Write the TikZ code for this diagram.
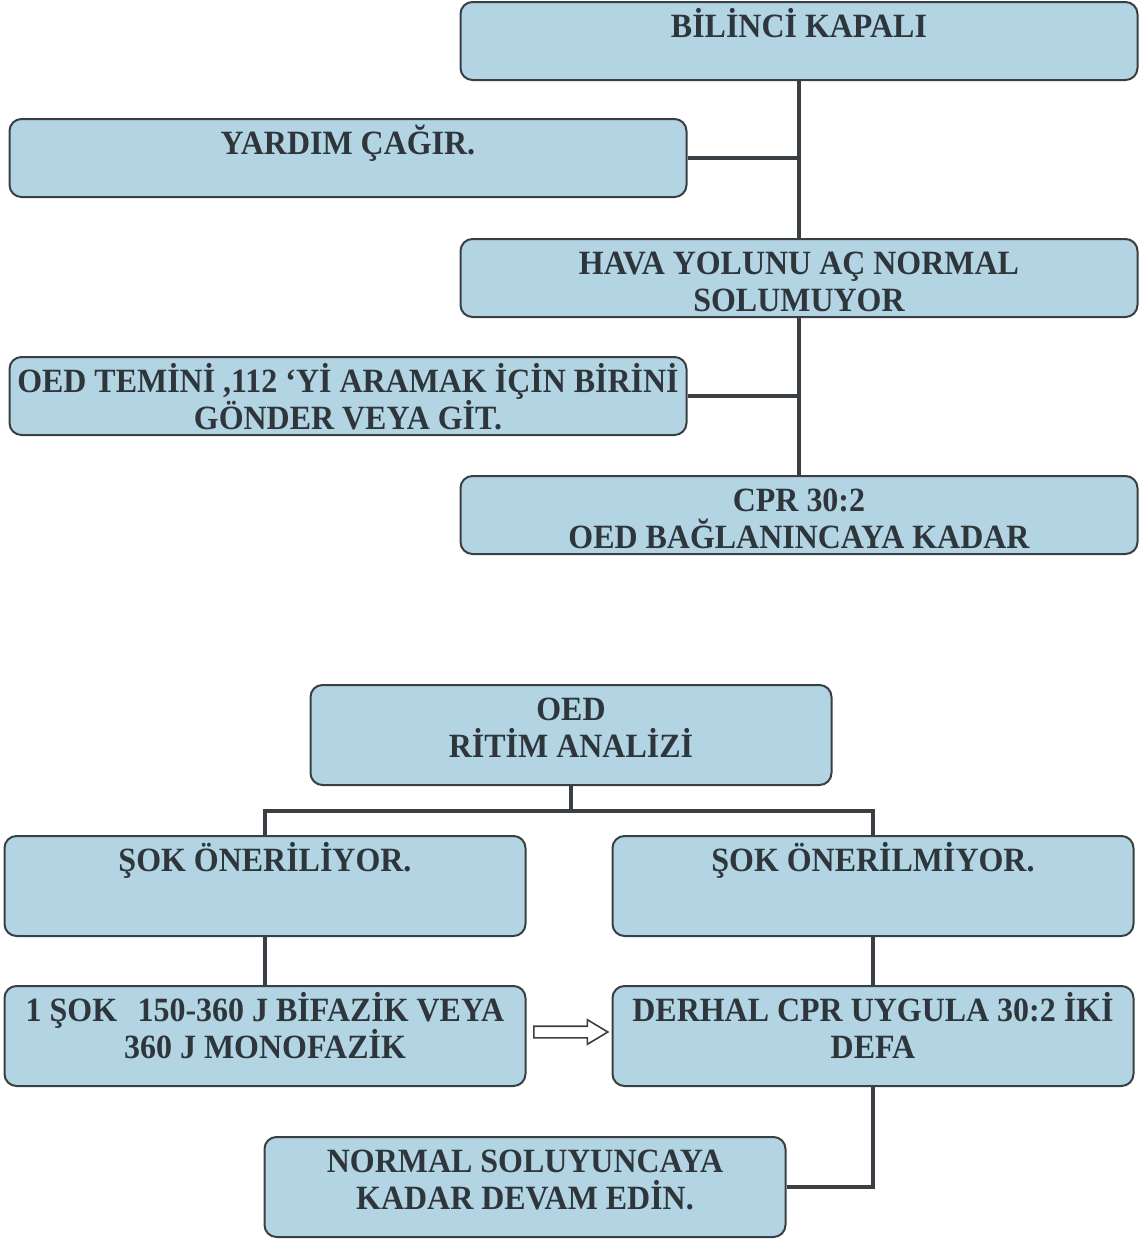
\documentclass[tikz,border=0pt]{standalone}
\usepackage{fontspec}
\setmainfont{Liberation Serif}[FakeStretch=0.94]
\usepackage{xcolor}
\usetikzlibrary{shapes.arrows}
\definecolor{boxblue}{RGB}{178,212,227}
\definecolor{boxline}{RGB}{58,63,68}
\definecolor{ink}{RGB}{46,53,59}
\begin{document}
\begin{tikzpicture}
[x=0.5pt,y=-0.5pt,
box/.style={draw=boxline,fill=boxblue,line width=1pt,rounded corners=6pt,inner sep=0pt},
wide/.style={box,minimum width=338.5pt,minimum height=39pt},
half/.style={box,minimum width=260.5pt,minimum height=50pt},
txt/.style={anchor=north,align=flush center,text width=350pt,inner sep=0pt,text=ink,font=\bfseries\fontsize{17}{18.5}\selectfont,execute at begin node={\rule{0pt}{15.5pt}}},
link/.style={draw=boxline,line width=2pt},
hollow/.style={single arrow,draw=boxline,fill=white,line width=0.8pt,minimum height=37pt,inner xsep=0pt,inner ysep=2.5pt,single arrow head extend=3.25pt,single arrow tip angle=62}]
\useasboundingbox (0,0) rectangle (1147,1242);
\node[wide] (b1) at (799,41) {};
\node[wide] (b2) at (348,158) {};
\node[wide] (b3) at (799,278) {};
\node[wide] (b4) at (348,396) {};
\node[wide] (b5) at (799,515) {};
\draw[link] (b1.south) -- (b3.north) (b3.south) -- (b5.north)
(b2.east) -- (b2.east -| b1.south) (b4.east) -- (b4.east -| b3.south);
\node[txt] (t1) at ([yshift=-2.5pt]b1.north) {BİLİNCİ KAPALI};
\node[txt] (t2) at ([yshift=-2.5pt]b2.north) {YARDIM ÇAĞIR.};
\node[txt] (t3) at ([yshift=-2.5pt]b3.north) {HAVA YOLUNU AÇ NORMAL\\SOLUMUYOR};
\node[txt] (t4) at ([yshift=-2.5pt]b4.north) {OED TEMİNİ ,112 ‘Yİ ARAMAK İÇİN BİRİNİ\\GÖNDER VEYA GİT.};
\node[txt] (t5) at ([yshift=-2.5pt]b5.north) {CPR 30:2\\OED BAĞLANINCAYA KADAR};

\node[half] (b6) at (571,735) {};
\node[half] (b7) at (265,886) {};
\node[half] (b8) at (873,886) {};
\node[half] (b9) at (265,1036) {};
\node[half] (b10) at (873,1036) {};
\node[half] (b11) at (525,1187) {};
\draw[link] (b6.south) -- ++(0,25) coordinate (j) -| (b7.north) (j) -| (b8.north)
(b7.south) -- (b9.north) (b8.south) -- (b10.north) (b10.south) |- (b11.east);
\node[hollow] (arr) at (566,1032) {};
\node[txt] (t6) at ([yshift=-2.5pt]b6.north) {OED\\RİTİM ANALİZİ};
\node[txt] (t7) at ([yshift=-2.5pt]b7.north) {ŞOK ÖNERİLİYOR.};
\node[txt] (t8) at ([yshift=-2.5pt]b8.north) {ŞOK ÖNERİLMİYOR.};
\node[txt] (t9) at ([yshift=-2.5pt]b9.north) {1 ŞOK\hspace{0.6em}150-360 J BİFAZİK VEYA\\360 J MONOFAZİK};
\node[txt] (t10) at ([yshift=-2.5pt]b10.north) {DERHAL CPR UYGULA 30:2 İKİ\\DEFA};
\node[txt] (t11) at ([yshift=-2.5pt]b11.north) {NORMAL SOLUYUNCAYA\\KADAR DEVAM EDİN.};
\end{tikzpicture}
\end{document}
